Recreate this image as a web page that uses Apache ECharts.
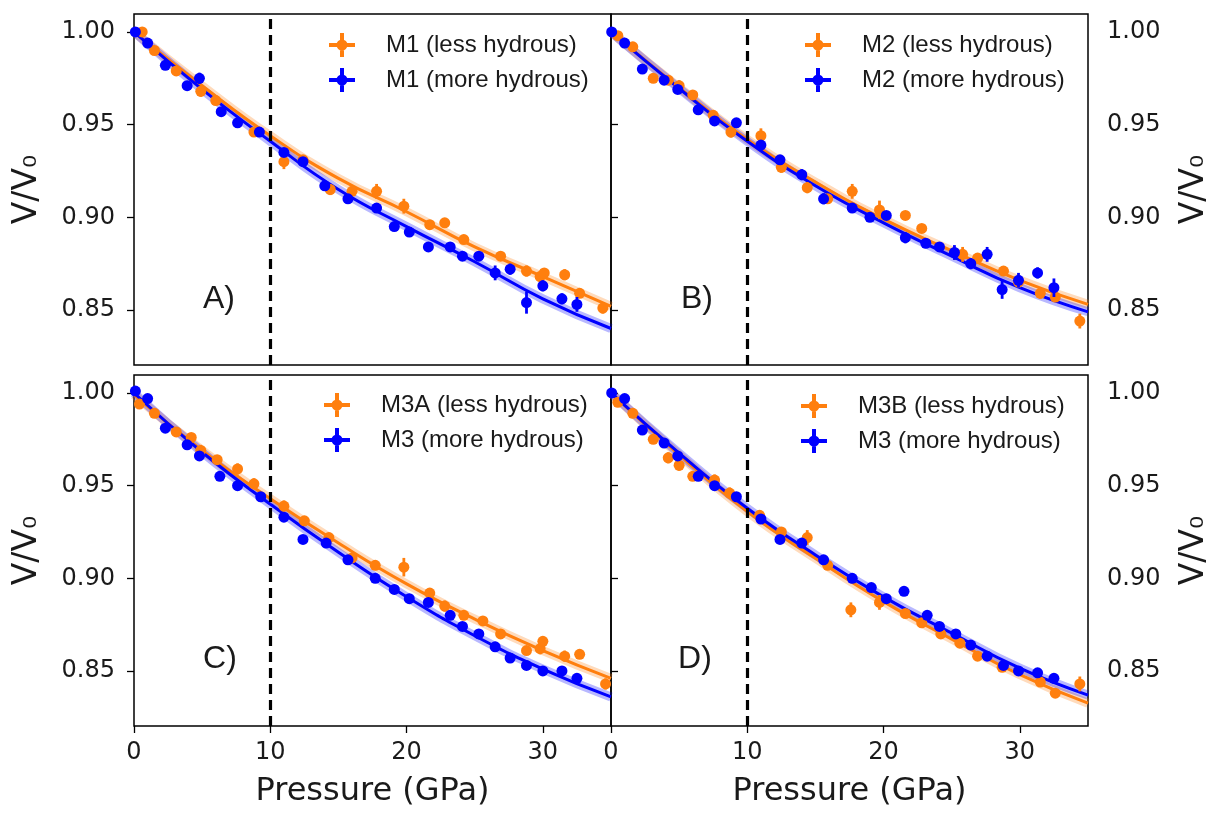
<!DOCTYPE html>
<html>
<head>
<meta charset="utf-8">
<script src="https://cdn.jsdelivr.net/npm/echarts@6/dist/echarts.min.js"></script>
<style>
html, body { margin: 0; padding: 0; background: #fff; }
#main { width: 1212px; height: 813px; }
</style>
</head>
<body>
<div id="main"></div>
<script>
var myChart = echarts.init(document.getElementById('main'));

// points: [pressure (GPa), V/V0, error]
var aLess = [[0.6,1.000,0.002],[1.5,0.990,0.002],[3.1,0.979,0.002],[4.9,0.968,0.003],[6.0,0.963,0.002],[8.8,0.946,0.002],[11.0,0.930,0.004],[12.4,0.931,0.002],[14.4,0.915,0.003],[16.0,0.914,0.002],[17.8,0.914,0.004],[19.8,0.906,0.004],[21.7,0.896,0.002],[22.8,0.897,0.002],[24.2,0.888,0.002],[26.9,0.879,0.002],[28.8,0.871,0.003],[29.8,0.868,0.003],[30.1,0.870,0.002],[31.6,0.869,0.003],[32.7,0.859,0.002],[34.4,0.851,0.003]];
var aMore = [[0.1,1.000,0.002],[1.0,0.994,0.002],[2.3,0.982,0.002],[3.9,0.971,0.002],[4.8,0.975,0.003],[6.4,0.957,0.002],[7.6,0.951,0.002],[9.2,0.946,0.002],[11.0,0.935,0.002],[12.4,0.930,0.002],[14.0,0.917,0.002],[15.7,0.910,0.002],[17.8,0.905,0.002],[19.1,0.895,0.002],[20.2,0.892,0.002],[21.6,0.884,0.002],[23.2,0.884,0.002],[24.1,0.879,0.002],[25.3,0.879,0.002],[26.5,0.870,0.004],[27.6,0.872,0.003],[28.8,0.854,0.006],[30.0,0.863,0.003],[31.4,0.856,0.003],[32.5,0.853,0.004]];
var bLess = [[0.5,0.998,0.002],[1.6,0.992,0.002],[3.1,0.975,0.002],[4.2,0.974,0.002],[5.0,0.971,0.003],[6.0,0.966,0.002],[7.5,0.955,0.002],[8.8,0.946,0.003],[11.0,0.944,0.004],[12.5,0.927,0.003],[14.4,0.916,0.003],[15.9,0.910,0.002],[17.7,0.914,0.004],[19.7,0.904,0.005],[21.6,0.901,0.002],[22.8,0.894,0.002],[25.8,0.880,0.004],[26.9,0.878,0.002],[28.8,0.871,0.002],[29.9,0.865,0.003],[31.5,0.859,0.003],[32.6,0.857,0.002],[34.4,0.844,0.004]];
var bMore = [[0.05,1.000,0.002],[1.0,0.994,0.002],[2.3,0.980,0.002],[3.9,0.974,0.002],[4.9,0.969,0.002],[6.4,0.958,0.002],[7.6,0.952,0.002],[9.2,0.951,0.002],[11.0,0.939,0.002],[12.4,0.931,0.002],[14.0,0.923,0.003],[15.6,0.910,0.003],[17.7,0.905,0.002],[19.0,0.900,0.002],[20.2,0.901,0.002],[21.6,0.889,0.003],[23.1,0.886,0.002],[24.1,0.884,0.002],[25.2,0.881,0.004],[26.4,0.875,0.003],[27.6,0.880,0.004],[28.7,0.861,0.005],[29.9,0.866,0.004],[31.3,0.870,0.003],[32.5,0.862,0.005]];
var cLess = [[0.4,0.994,0.002],[1.5,0.989,0.002],[3.1,0.979,0.002],[4.2,0.976,0.002],[4.9,0.969,0.003],[6.1,0.964,0.002],[7.6,0.959,0.003],[8.8,0.951,0.003],[11.0,0.939,0.003],[12.5,0.931,0.002],[14.3,0.922,0.002],[16.0,0.911,0.002],[17.7,0.907,0.002],[19.8,0.906,0.005],[21.7,0.892,0.002],[22.8,0.885,0.003],[24.2,0.880,0.002],[25.6,0.877,0.002],[26.9,0.870,0.002],[28.8,0.861,0.002],[29.8,0.862,0.003],[30.0,0.866,0.002],[31.6,0.858,0.003],[32.7,0.859,0.002],[34.6,0.843,0.003]];
var cMore = [[0.1,1.001,0.002],[1.0,0.997,0.002],[2.3,0.981,0.002],[3.9,0.972,0.002],[4.8,0.966,0.002],[6.3,0.955,0.002],[7.6,0.950,0.002],[9.3,0.944,0.002],[11.0,0.933,0.002],[12.4,0.921,0.002],[14.1,0.919,0.002],[15.7,0.910,0.002],[17.7,0.900,0.002],[19.1,0.894,0.002],[20.2,0.889,0.002],[21.6,0.887,0.002],[23.2,0.880,0.002],[24.1,0.874,0.002],[25.3,0.870,0.002],[26.5,0.863,0.002],[27.6,0.857,0.002],[28.8,0.853,0.002],[30.0,0.850,0.002],[31.4,0.850,0.002],[32.5,0.846,0.002]];
var dLess = [[0.5,0.995,0.002],[1.6,0.989,0.002],[3.1,0.975,0.002],[4.2,0.965,0.003],[5.0,0.961,0.003],[6.0,0.955,0.002],[7.6,0.953,0.003],[8.7,0.946,0.003],[10.9,0.934,0.002],[12.5,0.925,0.002],[14.4,0.922,0.004],[15.9,0.907,0.002],[17.6,0.883,0.004],[19.7,0.887,0.004],[21.6,0.881,0.002],[22.8,0.876,0.002],[24.2,0.870,0.002],[25.6,0.865,0.002],[26.9,0.858,0.002],[28.7,0.852,0.002],[31.5,0.844,0.002],[32.6,0.838,0.002],[34.4,0.843,0.004]];
var dMore = [[0.05,1.000,0.002],[1.0,0.997,0.002],[2.3,0.980,0.002],[3.9,0.973,0.002],[4.9,0.966,0.002],[6.4,0.955,0.002],[7.6,0.950,0.002],[9.2,0.944,0.002],[11.0,0.932,0.002],[12.4,0.921,0.002],[14.0,0.919,0.002],[15.6,0.910,0.002],[17.7,0.900,0.002],[19.1,0.895,0.002],[20.2,0.889,0.002],[21.5,0.893,0.002],[23.2,0.880,0.002],[24.1,0.874,0.002],[25.3,0.870,0.002],[26.4,0.864,0.002],[27.6,0.858,0.002],[28.8,0.853,0.002],[29.9,0.850,0.002],[31.3,0.849,0.002],[32.5,0.846,0.002]];

// EOS fit curves: [pressure, V/V0]
var aLessFit = [[0,1.000],[5,0.971],[10,0.944],[15,0.921],[20,0.903],[25,0.884],[30,0.868],[35,0.852]];
var aMoreFit = [[0,1.000],[5,0.969],[10,0.941],[15,0.915],[20,0.895],[25,0.876],[30,0.856],[35,0.840]];
var bLessFit = [[0,1.000],[5,0.970],[10,0.942],[15,0.919],[20,0.899],[25,0.882],[30,0.866],[35,0.853]];
var bMoreFit = [[0,1.000],[5,0.9695],[10,0.941],[15,0.917],[20,0.897],[25,0.879],[30,0.862],[35,0.849]];
var cLessFit = [[0,0.999],[5,0.969],[10,0.943],[15,0.919],[20,0.897],[25,0.878],[30,0.861],[35,0.846]];
var cMoreFit = [[0,1.000],[5,0.968],[10,0.940],[15,0.914],[20,0.890],[25,0.869],[30,0.851],[35,0.836]];
var dLessFit = [[0,1.000],[5,0.9666],[10,0.936],[15,0.9108],[20,0.8874],[25,0.8672],[30,0.848],[35,0.8326]];
var dMoreFit = [[0,1.000],[5,0.9675],[10,0.9378],[15,0.9126],[20,0.890],[25,0.8704],[30,0.8515],[35,0.837]];

var legendNames = [
    ['M1 (less hydrous)', 'M1 (more hydrous)'],
    ['M2 (less hydrous)', 'M2 (more hydrous)'],
    ['M3A (less hydrous)', 'M3 (more hydrous)'],
    ['M3B (less hydrous)', 'M3 (more hydrous)']
];
var panelLetters = ['A)', 'B)', 'C)', 'D)'];
var xTicks = [0, 10, 20, 30];
var yTicks = [0.85, 0.90, 0.95, 1.00];
var boundary = 10;

var panels = [
    {less: aLess, more: aMore, lessFit: aLessFit, moreFit: aMoreFit},
    {less: bLess, more: bMore, lessFit: bLessFit, moreFit: bMoreFit},
    {less: cLess, more: cMore, lessFit: cLessFit, moreFit: cMoreFit},
    {less: dLess, more: dMore, lessFit: dLessFit, moreFit: dMoreFit}
];

var ORANGE = '#ff7f0e';
var BLUE = '#0000ff';
var FONT = 'DejaVu Sans';
var Y_MIN = 0.8203, Y_MAX = 1.0097;

var boxes = [
    {left: 134, top: 14}, {left: 611, top: 14},
    {left: 134, top: 375}, {left: 611, top: 375}
];
var legendPos = [
    {left: 329, top: 33}, {left: 805, top: 33},
    {left: 324, top: 393}, {left: 801, top: 394}
];
var letterPos = [[219, 299], [697, 299], [220, 659], [695, 659]];

var crossIcon = 'path://M11,0 H15 V24 H11 Z M0,10 H26 V14 H0 Z M13,6.5 A5.5,5.5 0 1,1 12.99,6.5 Z';

function errRender(params, api) {
    var x = api.value(0), y = api.value(1), e = api.value(2);
    var p1 = api.coord([x, y - e]);
    var p2 = api.coord([x, y + e]);
    return {
        type: 'line',
        shape: {x1: p1[0], y1: p1[1], x2: p2[0], y2: p2[1]},
        style: {stroke: api.visual('color'), lineWidth: 2.8}
    };
}

var grids = [], xAxes = [], yAxes = [], series = [], legends = [], graphics = [];

panels.forEach(function (p, i) {
    var bottom = i >= 2;
    var right = i % 2 === 1;
    grids.push({
        left: boxes[i].left, top: boxes[i].top, width: 477, height: 351,
        show: true, borderColor: '#000', borderWidth: 1.5
    });
    xAxes.push({
        gridIndex: i, type: 'value', min: 0, max: 35,
        splitLine: {show: false},
        axisLine: {show: false},
        axisTick: {show: bottom, length: 7, customValues: xTicks, lineStyle: {color: '#000', width: 1.3}},
        axisLabel: {show: bottom, customValues: xTicks, fontSize: 24, fontFamily: FONT, color: '#1a1a1a', margin: 15},
        name: bottom ? 'Pressure (GPa)' : '',
        nameLocation: 'middle', nameGap: 50,
        nameTextStyle: {fontSize: 32, fontFamily: FONT, color: '#1a1a1a'}
    });
    yAxes.push({
        gridIndex: i, type: 'value', min: Y_MIN, max: Y_MAX,
        position: right ? 'right' : 'left',
        splitLine: {show: false},
        axisLine: {show: false},
        axisTick: {show: true, length: 7, customValues: yTicks, lineStyle: {color: '#000', width: 1.3}},
        axisLabel: {
            customValues: yTicks, fontSize: 24, fontFamily: FONT, color: '#1a1a1a', margin: 19,
            formatter: function (v) { return v.toFixed(2); }
        },
        name: 'V/V₀', nameLocation: 'middle', nameGap: 90, nameRotate: 90,
        nameTextStyle: {fontSize: 33, fontFamily: FONT, color: '#1a1a1a'}
    });

    var names = legendNames[i];
    // confidence bands
    [[p.lessFit, ORANGE], [p.moreFit, BLUE]].forEach(function (f) {
        series.push({
            type: 'line', xAxisIndex: i, yAxisIndex: i, data: f[0],
            smooth: true, showSymbol: false, silent: true, z: 1,
            lineStyle: {color: f[1], width: 9, opacity: 0.28}
        });
    });
    // fit lines
    [[p.lessFit, ORANGE], [p.moreFit, BLUE]].forEach(function (f, k) {
        series.push({
            type: 'line', xAxisIndex: i, yAxisIndex: i, data: f[0],
            smooth: true, showSymbol: false, silent: true, z: 2 + k,
            lineStyle: {color: f[1], width: 3}
        });
    });
    // error bars + points
    [[p.less, ORANGE, names[0]], [p.more, BLUE, names[1]]].forEach(function (s, k) {
        series.push({
            type: 'custom', xAxisIndex: i, yAxisIndex: i, data: s[0],
            renderItem: errRender, encode: {x: 0, y: 1}, silent: true, z: 4 + k,
            itemStyle: {color: s[1]}
        });
        var sc = {
            type: 'scatter', name: s[2], xAxisIndex: i, yAxisIndex: i,
            data: s[0].map(function (d) { return [d[0], d[1]]; }),
            symbolSize: 11, z: 4 + k,
            itemStyle: {color: s[1], opacity: 1}
        };
        if (k === 1) {
            sc.markLine = {
                silent: true, symbol: 'none', label: {show: false},
                lineStyle: {color: '#000', type: [10, 6], width: 3.2},
                data: [{xAxis: boundary}]
            };
        }
        series.push(sc);
    });

    legends.push({
        orient: 'vertical', left: legendPos[i].left, top: legendPos[i].top,
        padding: 0, itemWidth: 26, itemHeight: 24, itemGap: 11,
        icon: crossIcon, selectedMode: false,
        data: names,
        textStyle: {fontFamily: 'Liberation Sans', fontSize: 24, color: '#1a1a1a', padding: [0, 0, 0, 26]}
    });

    graphics.push({
        type: 'text', x: letterPos[i][0], y: letterPos[i][1],
        style: {
            text: panelLetters[i], fontSize: 32, fontFamily: 'Liberation Sans',
            fill: '#1a1a1a', align: 'center', verticalAlign: 'middle'
        }
    });
});

var option = {
    animation: false,
    backgroundColor: '#fff',
    grid: grids,
    xAxis: xAxes,
    yAxis: yAxes,
    legend: legends,
    graphic: graphics,
    series: series
};

myChart.setOption(option);
window.onresize = function () {
    myChart.resize();
};
</script>
</body>
</html>
